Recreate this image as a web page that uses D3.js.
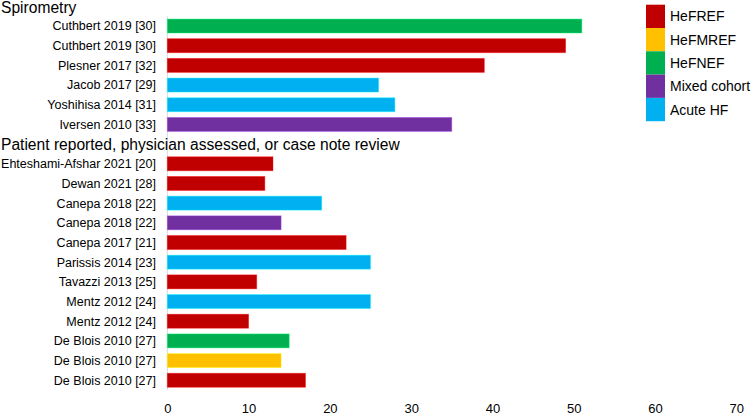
<!DOCTYPE html>
<html>
<head>
<meta charset="utf-8">
<script src="https://cdn.jsdelivr.net/npm/d3@7"></script>
<style>
  html, body { margin: 0; padding: 0; background: #fff; }
  svg { display: block; font-family: "Liberation Sans", Arial, sans-serif; }
</style>
</head>
<body>
<svg id="chart" width="753" height="415"></svg>
<script>
// ---- data ----
const sectionTitles = ["Spirometry", "Patient reported, physician assessed, or case note review"];
const spiroLabels = ["Cuthbert 2019 [30]", "Cuthbert 2019 [30]", "Plesner 2017 [32]", "Jacob 2017 [29]", "Yoshihisa 2014 [31]", "Iversen 2010 [33]"];
const spiroValues = [51, 49, 39, 26, 28, 35];
const spiroGroups = ["HeFNEF", "HeFREF", "HeFREF", "Acute HF", "Acute HF", "Mixed cohort"];
const patientLabels = ["Ehteshami-Afshar 2021 [20]", "Dewan 2021 [28]", "Canepa 2018 [22]", "Canepa 2018 [22]", "Canepa 2017 [21]", "Parissis 2014 [23]", "Tavazzi 2013 [25]", "Mentz 2012 [24]", "Mentz 2012 [24]", "De Blois 2010 [27]", "De Blois 2010 [27]", "De Blois 2010 [27]"];
const patientValues = [13, 12, 19, 14, 22, 25, 11, 25, 10, 15, 14, 17];
const patientGroups = ["HeFREF", "HeFREF", "Acute HF", "Mixed cohort", "HeFREF", "Acute HF", "HeFREF", "Acute HF", "HeFREF", "HeFNEF", "HeFMREF", "HeFREF"];
const legendNames = ["HeFREF", "HeFMREF", "HeFNEF", "Mixed cohort", "Acute HF"];
const legendColors = ["#C00000", "#FFC000", "#00B050", "#7030A0", "#00B0F0"];
const xTicks = [0, 10, 20, 30, 40, 50, 60, 70];

// ---- build rows ----
const rows = [];
rows.push({ key: "h0", header: true, label: sectionTitles[0] });
spiroLabels.forEach((l, i) => rows.push({ key: "s" + i, label: l, value: spiroValues[i], group: spiroGroups[i] }));
rows.push({ key: "h1", header: true, label: sectionTitles[1] });
patientLabels.forEach((l, i) => rows.push({ key: "p" + i, label: l, value: patientValues[i], group: patientGroups[i] }));

const svg = d3.select("#chart");
const color = d3.scaleOrdinal().domain(legendNames).range(legendColors);

const x = d3.scaleLinear().domain([0, 70]).range([167.3, 736.3]);
const y = d3.scaleBand().domain(rows.map(r => r.key))
  .range([-3.5, -3.5 + 19.68 * rows.length])
  .paddingInner(0.29).paddingOuter(0.145);

const bars = rows.filter(r => !r.header);
const headers = rows.filter(r => r.header);

// vertical axis line
svg.append("line")
  .attr("x1", x(0)).attr("x2", x(0))
  .attr("y1", y(bars[0].key) - y.step() * 0.145)
  .attr("y2", y(bars[bars.length - 1].key) + y.bandwidth() + y.step() * 0.145)
  .attr("stroke", "#d9d9d9").attr("stroke-width", 1);

// bars
svg.append("g").selectAll("rect").data(bars).join("rect")
  .attr("x", x(0))
  .attr("y", d => y(d.key))
  .attr("width", d => x(d.value) - x(0))
  .attr("height", y.bandwidth())
  .attr("fill", d => color(d.group))
  .attr("stroke", d => d3.color(color(d.group)).brighter(1.2))
  .attr("stroke-opacity", 0.5)
  .attr("stroke-width", 0.8);

// category labels
svg.append("g").selectAll("text").data(bars).join("text")
  .attr("x", 156)
  .attr("y", d => y(d.key) + y.bandwidth() / 2 + 4.4)
  .attr("text-anchor", "end")
  .style("font-size", "12.5px")
  .attr("fill", "#000")
  .text(d => d.label);

// section headers
svg.append("g").selectAll("text").data(headers).join("text")
  .attr("x", 1)
  .attr("y", d => y(d.key) + y.bandwidth() / 2 + 6.3)
  .style("font-size", "15.6px")
  .attr("fill", "#000")
  .text(d => d.label);

// x axis (tick labels only)
const xAxis = d3.axisBottom(x).tickValues(xTicks).tickSize(0).tickPadding(0);
const gx = svg.append("g").attr("transform", "translate(0,400)").call(xAxis);
gx.select(".domain").remove();
gx.attr("font-size", null).attr("font-family", null);
gx.selectAll("text")
  .style("font-family", "'Liberation Sans', Arial, sans-serif")
  .style("font-size", "13px")
  .attr("fill", "#000")
  .attr("dy", "0")
  .attr("y", 12.7);

// legend
const lg = svg.append("g");
const legY = d3.scaleBand().domain(legendNames).range([4.7, 4.7 + 23.3 * legendNames.length]);
lg.selectAll("rect").data(legendNames).join("rect")
  .attr("x", 646).attr("y", d => legY(d))
  .attr("width", 19).attr("height", legY.bandwidth())
  .attr("fill", d => color(d));
lg.selectAll("text").data(legendNames).join("text")
  .attr("x", 670)
  .attr("y", d => legY(d) + legY.bandwidth() / 2 + 5)
  .style("font-size", "14px")
  .attr("fill", "#000")
  .text(d => d);
</script>
</body>
</html>
